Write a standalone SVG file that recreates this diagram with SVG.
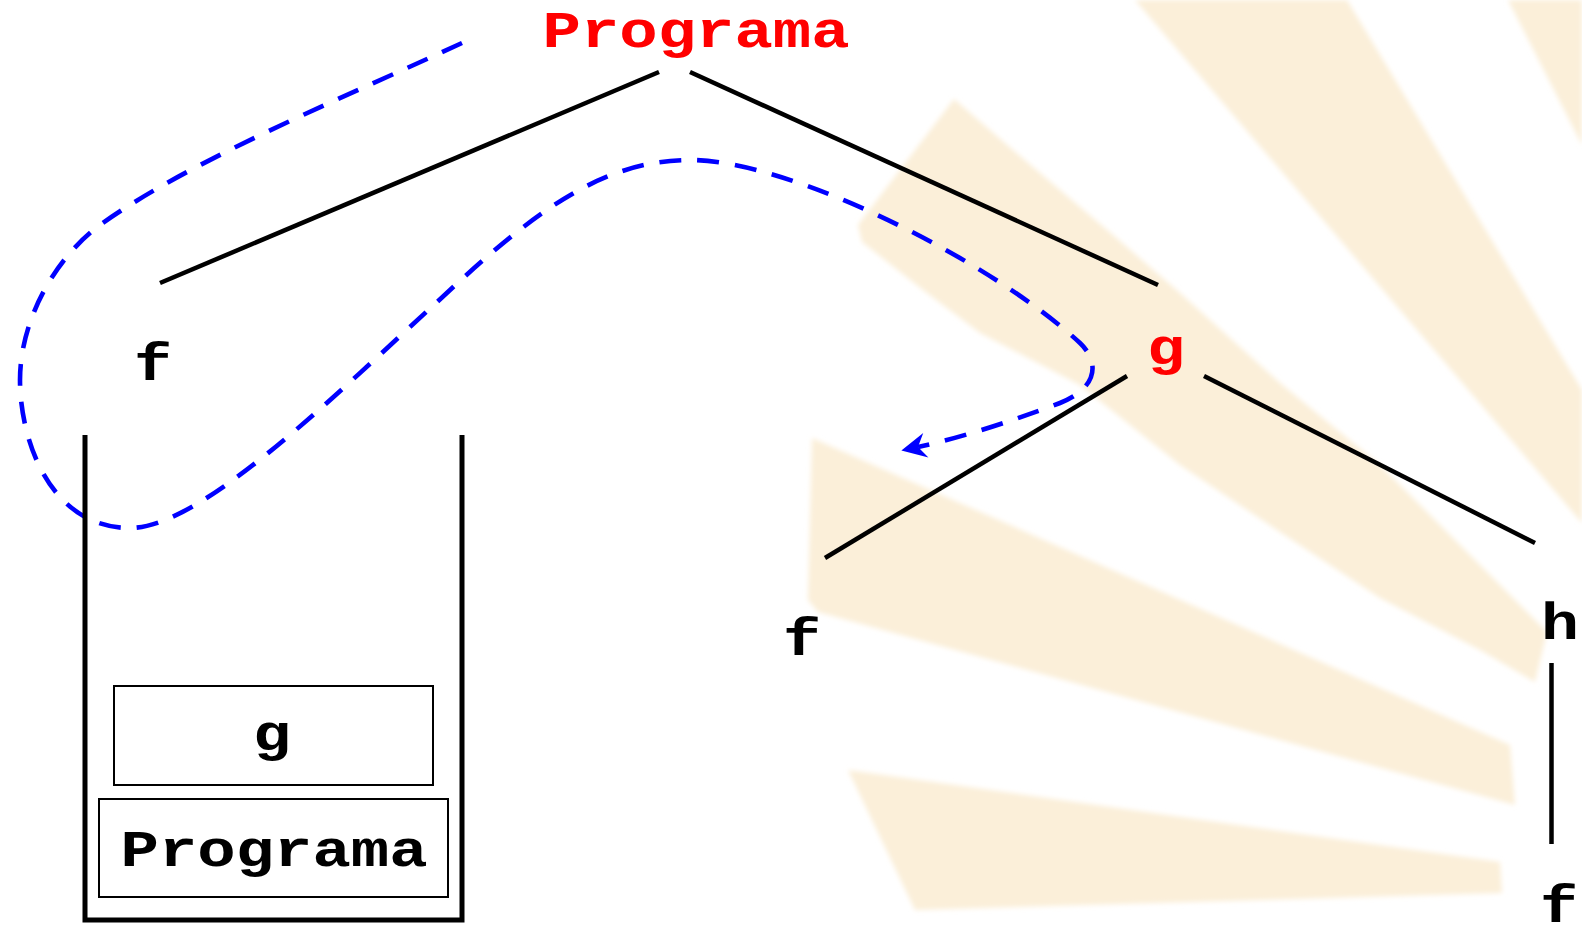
<svg xmlns="http://www.w3.org/2000/svg" width="1582" height="929" viewBox="0 0 1582 929">
<defs>
<style>
.lbl{font-family:"Liberation Mono","Courier New",monospace;font-weight:bold;font-size:52px;text-anchor:middle}
.red{fill:#ff0000}
.blk{fill:#000000}
.edge{stroke:#000000;stroke-width:4.5;fill:none}
.frame{stroke:#000000;stroke-width:2;fill:#ffffff}
.ray{fill:#fbefd9}
</style>
<filter id="soft" x="-5%" y="-5%" width="110%" height="110%"><feGaussianBlur stdDeviation="2.5"/></filter>
<marker id="arr" markerUnits="userSpaceOnUse" viewBox="-2 -14 30 28" markerWidth="30" markerHeight="28" refX="8" refY="0" orient="auto">
<path d="M0 -12.5 L25 0 L0 12.5 L8 0 Z" fill="#0000ff"/>
</marker>
</defs>
<rect width="1582" height="929" fill="#ffffff"/>
<g id="background" filter="url(#soft)">
<polygon class="ray" points="1508,0 1582,0 1582,145"/>
<polygon class="ray" points="1135,0 1347,0 1582,390 1582,523"/>
<polygon class="ray" points="954,99 1013,150 1113,235 1180,293 1280,383 1380,465 1547,632 1535,682 1480,650 1380,598 1280,532 1180,465 1080,385 980,333 923,290 862,242 858,225"/>
<polygon class="ray" points="812,438 1510,745 1515,805 818,612 808,600"/>
<polygon class="ray" points="848,770 1500,862 1502,893 915,910"/>
</g>
<g id="connectors">
<line class="edge" x1="659" y1="72" x2="160" y2="283"/>
<line class="edge" x1="690" y1="72" x2="1158" y2="285"/>
<line class="edge" x1="1127" y1="376" x2="825" y2="558"/>
<line class="edge" x1="1204" y1="376" x2="1535" y2="543"/>
<line class="edge" x1="1551.5" y1="663" x2="1551.5" y2="844"/>
<path id="trace" d="M462 43 C350 95 190 160 100 225 C55 258 20 320 20 380 C20 440 50 528 130 528 C200 528 330 400 436 303 C530 215 600 160 690 160 C790 160 990 260 1080 343 C1100 362 1098 388 1060 403 C1020 418 965 437 918 447" fill="none" stroke="#0000ff" stroke-width="4.6" stroke-dasharray="22 16" marker-end="url(#arr)"/>
</g>
<g id="stack">
<path d="M85 435 V920 H462 V435" fill="none" stroke="#000000" stroke-width="5"/>
</g>
<g id="frame-g">
<rect class="frame" x="114" y="686" width="319" height="99"/>
<text class="lbl blk" x="272" y="750" textLength="38" lengthAdjust="spacingAndGlyphs">g</text>
</g>
<g id="frame-programa">
<rect class="frame" x="99" y="799" width="349" height="98"/>
<text class="lbl blk" x="274" y="866" textLength="307" lengthAdjust="spacingAndGlyphs">Programa</text>
</g>
<g id="node-programa"><text class="lbl red" x="696" y="47" textLength="307" lengthAdjust="spacingAndGlyphs">Programa</text></g>
<g id="node-f1"><text class="lbl blk" x="153" y="380" textLength="38" lengthAdjust="spacingAndGlyphs">f</text></g>
<g id="node-g"><text class="lbl red" x="1166" y="364" textLength="38" lengthAdjust="spacingAndGlyphs">g</text></g>
<g id="node-f2"><text class="lbl blk" x="802" y="655" textLength="38" lengthAdjust="spacingAndGlyphs">f</text></g>
<g id="node-h"><text class="lbl blk" x="1560" y="639" textLength="38" lengthAdjust="spacingAndGlyphs">h</text></g>
<g id="node-f3"><text class="lbl blk" x="1559" y="922" textLength="38" lengthAdjust="spacingAndGlyphs">f</text></g>
</svg>
